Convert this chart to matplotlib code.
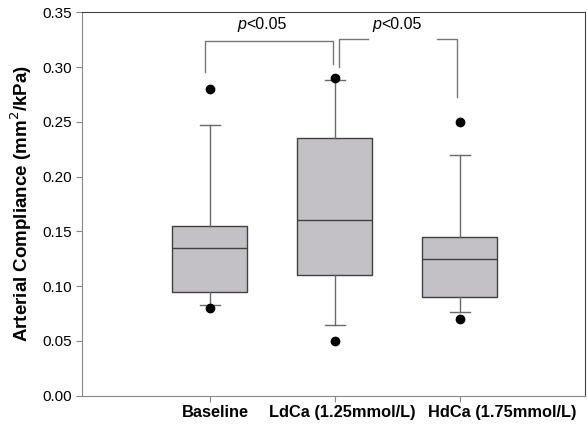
import matplotlib.pyplot as plt

plt.rcParams['font.family'] = ['Liberation Sans', 'DejaVu Sans']

groups = ['Baseline', 'LdCa (1.25mmol/L)', 'HdCa (1.75mmol/L)']
positions = [1, 2, 3]
q1 = [0.095, 0.110, 0.090]
med = [0.135, 0.160, 0.125]
q3 = [0.155, 0.235, 0.145]
whislo = [0.083, 0.065, 0.076]
whishi = [0.247, 0.288, 0.220]
fliers = [[0.080, 0.280], [0.050, 0.290], [0.070, 0.250]]
# label centres sit right of the ticks in the original
label_x = [1.048, 2.064, 3.336]

stats = []
for i in range(3):
    stats.append({'label': groups[i], 'q1': q1[i], 'med': med[i], 'q3': q3[i],
                  'whislo': whislo[i], 'whishi': whishi[i], 'fliers': fliers[i]})

fig = plt.figure(figsize=(5.87, 4.26), dpi=100)
ax = fig.add_axes([0.1397, 0.0711, 0.857, 0.8999])

ax.bxp(stats, positions=positions, widths=0.6, patch_artist=True,
       boxprops=dict(facecolor='#c3c1c5', edgecolor='#404040', linewidth=1.0),
       medianprops=dict(color='#404040', linewidth=1.0),
       whiskerprops=dict(color='#6a6a6a', linewidth=1.0),
       capprops=dict(color='#6a6a6a', linewidth=1.0),
       capwidths=0.16,
       flierprops=dict(marker='o', markerfacecolor='black', markeredgecolor='black',
                       markersize=6))

# significance brackets
br = '#777777'
ax.plot([0.966, 0.966, 1.984, 1.984], [0.296, 0.3243, 0.3243, 0.3025], color=br, lw=1)
ax.text(1.29, 0.3385, 'p', style='italic', fontsize=11.5, ha='right', va='center')
ax.text(1.29, 0.3385, '<0.05', fontsize=11.5, ha='left', va='center')
ax.plot([2.034, 2.034, 2.264], [0.3005, 0.326, 0.326], color=br, lw=1)
ax.plot([2.816, 2.978, 2.978], [0.326, 0.326, 0.273], color=br, lw=1)
ax.text(2.37, 0.3385, 'p', style='italic', fontsize=11.5, ha='right', va='center')
ax.text(2.37, 0.3385, '<0.05', fontsize=11.5, ha='left', va='center')

ax.set_xlim(-0.02, 4.0)
ax.set_ylim(0, 0.35)
ax.set_yticks([0, 0.05, 0.10, 0.15, 0.20, 0.25, 0.30, 0.35])
ax.set_yticklabels(['%.2f' % v for v in ax.get_yticks()], fontsize=11)
ax.set_xticks(positions)
ax.set_xticklabels([])
for x, g in zip(label_x, groups):
    ax.text(x, -0.015, g, fontsize=11.8, fontweight='bold', ha='center', va='center')
ax.set_ylabel('Arterial Compliance (mm$^2$/kPa)', fontsize=13.5, fontweight='bold', labelpad=6)

for s in ['left', 'bottom']:
    ax.spines[s].set_color('#888888')
for s in ['top', 'right']:
    ax.spines[s].set_color('#444444')
ax.tick_params(axis='both', color='#888888', length=4)

fig.savefig('out.png', dpi=100)
